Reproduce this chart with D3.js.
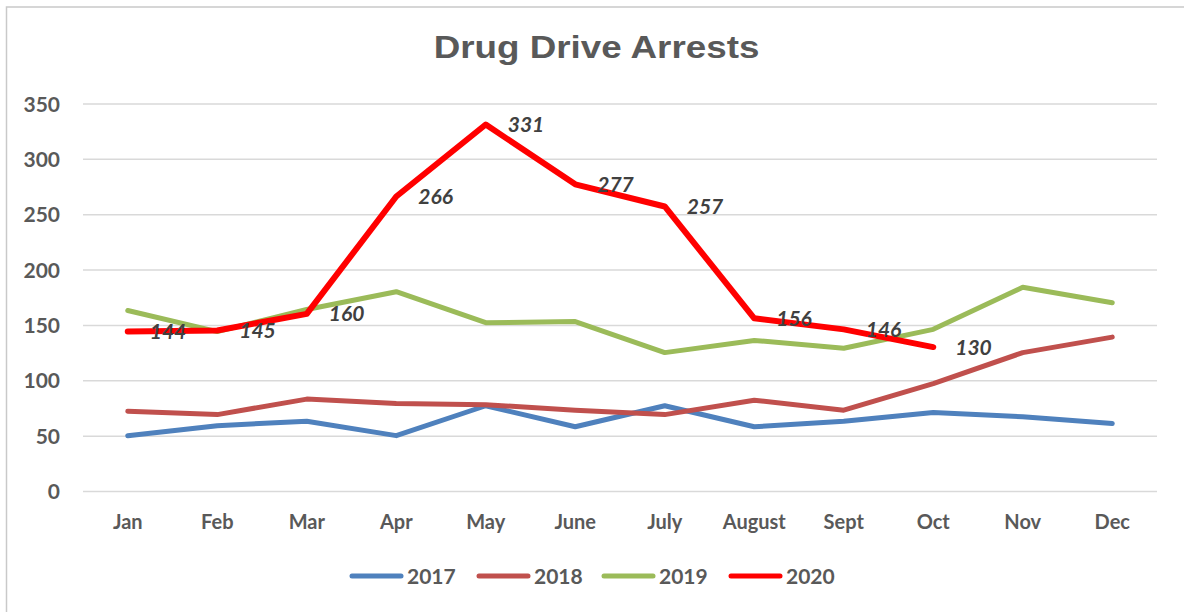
<!DOCTYPE html>
<html>
<head>
<meta charset="utf-8">
<script src="https://cdn.jsdelivr.net/npm/d3@7"></script>
<style>
  html, body { margin: 0; padding: 0; background: #fff; }
  svg { display: block; }
</style>
</head>
<body>
<script>
// Monthly drug-drive arrests by year
const months = ["Jan", "Feb", "Mar", "Apr", "May", "June", "July", "August", "Sept", "Oct", "Nov", "Dec"];
const yearLabels = ["2017", "2018", "2019", "2020"];
const values2017 = [50, 59, 63, 50, 77, 58, 77, 58, 63, 71, 67, 61];
const values2018 = [72, 69, 83, 79, 78, 73, 69, 82, 73, 97, 125, 139];
const values2019 = [163, 144, 164, 180, 152, 153, 125, 136, 129, 146, 184, 170];
const values2020 = [144, 145, 160, 266, 331, 277, 257, 156, 146, 130];
const yTicks = [0, 50, 100, 150, 200, 250, 300, 350];
const seriesColors = ["#4f81bd", "#c0504d", "#9bbb59", "#ff0000"];

const series = [values2017, values2018, values2019, values2020].map((vals, i) => ({
  name: yearLabels[i], values: vals, color: seriesColors[i], width: i === 3 ? 6 : 5
}));

const W = 1184, H = 612;
const svg = d3.select("body").append("svg").attr("width", W).attr("height", H);

// outer chart frame
svg.append("rect")
  .attr("x", 6.5).attr("y", 7)
  .attr("width", 1300).attr("height", 700)
  .attr("fill", "#fff").attr("stroke", "#c9c9c9").attr("stroke-width", 1.5);

const plot = { left: 83, right: 1157, top: 103.5, bottom: 491 };

const x = d3.scaleBand().domain(months).range([plot.left, plot.right]).padding(0);
const cx = d => x(d) + x.bandwidth() / 2;
const y = d3.scaleLinear().domain([0, 350]).range([plot.bottom, plot.top]);

const font = "Lato, 'Open Sans', sans-serif";

// title
svg.append("text")
  .attr("transform", `translate(596.5,58) scale(1.15,1)`)
  .attr("text-anchor", "middle")
  .attr("font-family", "'Liberation Sans', Arial, sans-serif")
  .attr("font-weight", "bold")
  .attr("font-size", 32)
  .attr("fill", "#595959")
  .text("Drug Drive Arrests");

// horizontal gridlines + y tick labels
const yAxis = svg.append("g")
  .attr("transform", `translate(${plot.left},0)`)
  .call(d3.axisLeft(y).tickValues(yTicks).tickSize(-(plot.right - plot.left)).tickPadding(23));
yAxis.select(".domain").remove();
yAxis.selectAll(".tick line").attr("stroke", "#d9d9d9").attr("stroke-width", 1.5);
yAxis.selectAll(".tick text")
  .attr("font-family", font).attr("font-weight", "bold").attr("font-size", 21)
  .attr("fill", "#595959").attr("dy", "0.36em");

// x category labels
const xAxis = svg.append("g")
  .attr("transform", `translate(0,${plot.bottom})`)
  .call(d3.axisBottom(x).tickSize(0).tickPadding(0));
xAxis.select(".domain").remove();
xAxis.selectAll(".tick text")
  .attr("font-family", font).attr("font-weight", "bold").attr("font-size", 20)
  .attr("fill", "#595959").attr("y", 38).attr("dy", 0);

// series lines
const line = d3.line().x((d, i) => cx(months[i])).y(d => y(d));
svg.append("g").selectAll("path")
  .data(series)
  .join("path")
  .attr("d", d => line(d.values))
  .attr("fill", "none")
  .attr("stroke", d => d.color)
  .attr("stroke-width", d => d.width)
  .attr("stroke-linejoin", "round")
  .attr("stroke-linecap", "round");

// value labels for 2020
svg.append("g").selectAll("text")
  .data(values2020)
  .join("text")
  .attr("x", (d, i) => cx(months[i]) + 22)
  .attr("y", d => y(d))
  .attr("dy", "0.36em")
  .attr("font-family", font).attr("font-weight", "bold").attr("font-style", "italic")
  .attr("font-size", 21).attr("fill", "#404040")
  .text(d => d);

// legend
const legendX = [350, 477, 602, 729];
const legend = svg.append("g").selectAll("g")
  .data(series)
  .join("g")
  .attr("transform", (d, i) => `translate(${legendX[i]},576)`);
legend.append("line")
  .attr("x1", 2).attr("x2", 51).attr("y1", 0).attr("y2", 0)
  .attr("stroke", d => d.color).attr("stroke-width", 5).attr("stroke-linecap", "round");
legend.append("text")
  .attr("x", 57).attr("y", 0).attr("dy", "0.36em")
  .attr("font-family", font).attr("font-weight", "bold").attr("font-size", 21)
  .attr("fill", "#595959")
  .text(d => d.name);
</script>
</body>
</html>
